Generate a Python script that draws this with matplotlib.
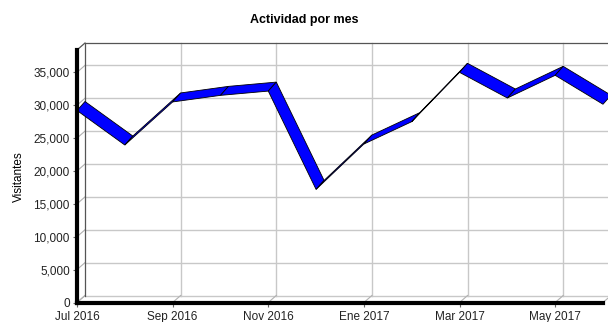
import numpy as np
import matplotlib
matplotlib.use('Agg')
import matplotlib.pyplot as plt
from matplotlib.patches import Polygon
from matplotlib.ticker import FuncFormatter

# monthly visitors, Jul 2016 - Jun 2017
months = ['Jul 2016', 'Ago 2016', 'Sep 2016', 'Oct 2016', 'Nov 2016', 'Dic 2016',
          'Ene 2017', 'Feb 2017', 'Mar 2017', 'Abr 2017', 'May 2017', 'Jun 2017']
visitors = [29200, 23950, 30500, 31500, 32150, 17200,
            24100, 27500, 35000, 31100, 34550, 30150]
y_ticks = [0, 5000, 10000, 15000, 20000, 25000, 30000, 35000]

plt.rcParams['font.family'] = ['Liberation Sans', 'DejaVu Sans']

W, H, DPI = 608, 322, 100
fig = plt.figure(figsize=(W / DPI, H / DPI), dpi=DPI)
ax = fig.add_axes([77 / W, 19.5 / H, 526 / W, 252.5 / H])

x = np.arange(len(months))
ax.set_xlim(0, len(months) - 1)
ax.set_ylim(0, 38400)

# pixel depth of the 3d box and of the ribbon
WALL = (8, 7)
RIB = (8, 9)

def push(px, py, depth):
    p = ax.transData.transform(np.column_stack([px, py]))
    p = p + np.array(depth)
    return ax.transData.inverted().transform(p)

grid_c = '#c8c8c8'
edge_c = '#555555'
ymax = ax.get_ylim()[1]
xmax = len(months) - 1

# back wall: horizontal grid
for v in y_ticks:
    b = push([0, xmax + 0.3], [v, v], WALL)
    ax.plot(b[:, 0], b[:, 1], color=grid_c, lw=1, clip_on=False, zorder=1)
    # diagonal on the left wall
    d = np.vstack([[0, v], push([0], [v], WALL)])
    ax.plot(d[:, 0], d[:, 1], color='#b0b0b0', lw=0.8, clip_on=False, zorder=1)

# back wall: vertical grid every two months
for m in x[2::2]:
    b = push([m, m], [0, ymax], WALL)
    ax.plot(b[:, 0], b[:, 1], color=grid_c, lw=1, clip_on=False, zorder=1)
for m in list(x[::2]) + [xmax]:
    d = np.vstack([[m, 0], push([m], [0], WALL)])
    ax.plot(d[:, 0], d[:, 1], color='#b0b0b0', lw=0.8, clip_on=False, zorder=1)

# wall outline
b = push([0, 0, xmax + 0.3], [0, ymax, ymax], WALL)
ax.plot(b[:, 0], b[:, 1], color=edge_c, lw=0.9, clip_on=False, zorder=1.5)
d = np.vstack([[0, ymax], push([0], [ymax], WALL)])
ax.plot(d[:, 0], d[:, 1], color=edge_c, lw=0.9, clip_on=False, zorder=1.5)

# ribbon: one parallelogram per segment
for i in range(len(x) - 1):
    front = np.array([[x[i], visitors[i]], [x[i + 1], visitors[i + 1]]])
    back = push(front[:, 0], front[:, 1], RIB)
    verts = np.vstack([front, back[::-1]])
    ax.add_patch(Polygon(verts, closed=True, facecolor='#0000ff',
                         edgecolor='black', lw=0.6, clip_on=False, zorder=3))

for s in ['top', 'right']:
    ax.spines[s].set_visible(False)
for s in ['left', 'bottom']:
    ax.spines[s].set_linewidth(3)
    ax.spines[s].set_color('black')
    ax.spines[s].set_zorder(5)
ax.patch.set_visible(False)

ax.set_yticks(y_ticks)
ax.yaxis.set_major_formatter(FuncFormatter(lambda v, p: f'{int(v):,}'))
ax.set_xticks(x[::2])
ax.set_xticklabels(months[::2])
ax.tick_params(axis='both', labelsize=8.5, labelcolor='#222222',
               color='#666666', length=3.2, width=0.8, pad=2)
ax.tick_params(axis='x', pad=3)

ax.set_ylabel('Visitantes', fontsize=8.5, labelpad=6)
fig.text(0.5, 1 - 20 / H, 'Actividad por mes', ha='center', va='center',
         fontsize=9, fontweight='bold')

fig.savefig('out.png', dpi=DPI)
